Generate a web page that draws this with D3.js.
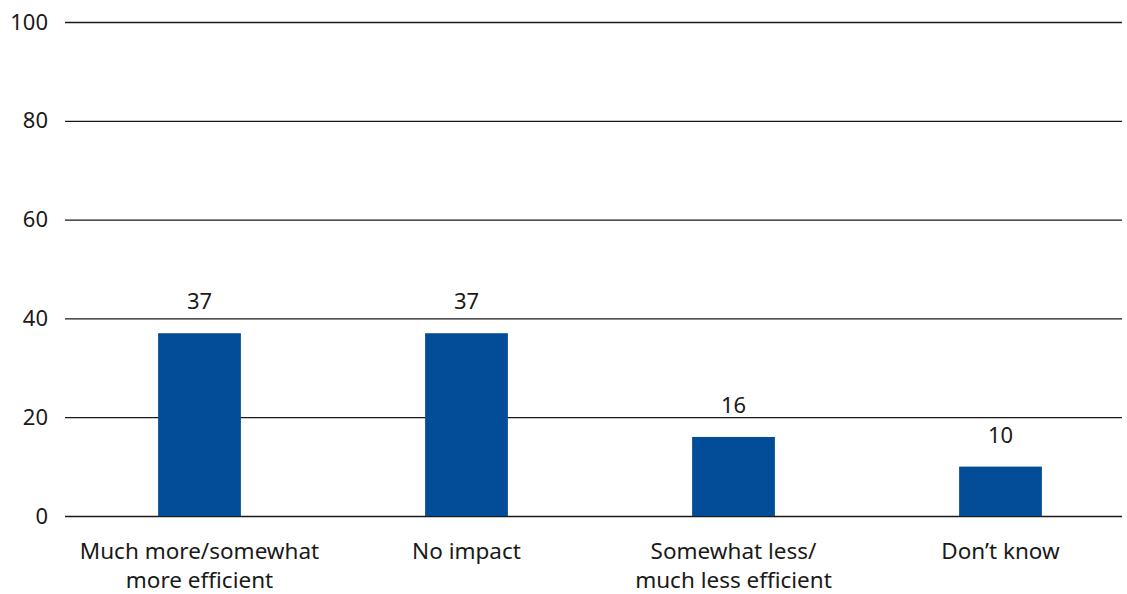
<!DOCTYPE html>
<html><head><meta charset="utf-8">
<script src="https://cdn.jsdelivr.net/npm/d3@7"></script>
<style>body{margin:0;background:#fff}svg{display:block}text{font-family:"Noto Sans",sans-serif;fill:#1a1a1a}</style>
</head><body><svg id="c" width="1127" height="594"></svg>
<script>
const categories = [["Much more/somewhat","more efficient"],["No impact"],["Somewhat less/","much less efficient"],["Don\u2019t know"]];
const values = [37, 37, 16, 10];
const yTicks = [0, 20, 40, 60, 80, 100];

const svg = d3.select("#c");
const x = d3.scaleBand().domain(d3.range(categories.length)).range([66, 1134]).paddingInner(0.69).paddingOuter(0.345);
const y = d3.scaleLinear().domain([0, 100]).range([516, 22]);

const yAxis = d3.axisLeft(y).tickValues(yTicks).tickSize(-(1122 - 65)).tickPadding(17);
const g = svg.append("g").attr("transform", "translate(65,0)").call(yAxis);
g.select(".domain").remove();
g.selectAll(".tick line").attr("stroke", "#1a1a1a").attr("stroke-width", 1.3);
g.selectAll(".tick text").style("font-size", "22px").attr("fill", "#1a1a1a");

svg.append("g").selectAll("rect").data(values).join("rect")
  .attr("x", (d, i) => x(i)).attr("width", x.bandwidth())
  .attr("y", d => y(d)).attr("height", d => y(0) - y(d))
  .attr("fill", "#034c97");

svg.append("g").selectAll("text").data(values).join("text")
  .attr("x", (d, i) => x(i) + x.bandwidth() / 2).attr("y", d => y(d) - 24)
  .attr("text-anchor", "middle").style("font-size", "22px").text(d => d);

const lines = [];
categories.forEach((c, i) => c.forEach((t, j) => lines.push({i, j, t})));
svg.append("g").selectAll("text").data(lines).join("text")
  .attr("x", d => x(d.i) + x.bandwidth() / 2).attr("y", d => 559 + d.j * 29)
  .attr("text-anchor", "middle").style("font-size", "22.5px").text(d => d.t);
</script></body></html>
